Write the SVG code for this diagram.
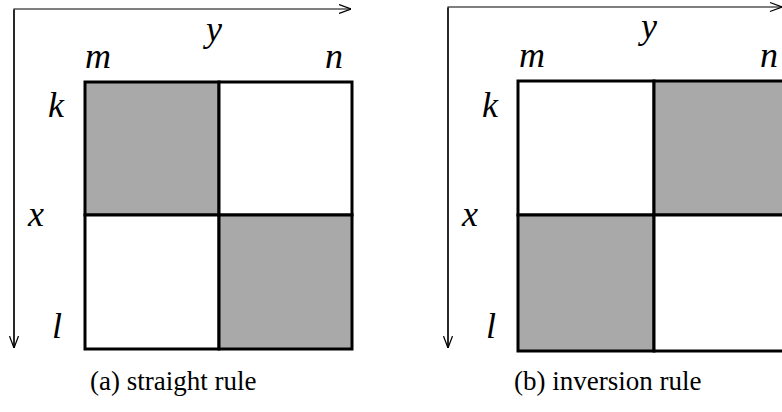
<svg xmlns="http://www.w3.org/2000/svg" width="782" height="412" viewBox="0 0 782 412">
<style>
.ax{fill:none;stroke:#000;stroke-width:1.2}
.cell{stroke:#000;stroke-width:3}
.g{fill:#a9a9a9}
.w{fill:#fff}
text{font-family:"Liberation Serif","DejaVu Serif",serif;font-style:italic;font-size:36px;fill:#000}
text.cap{font-style:normal;font-size:27px}
</style>
<defs>
<marker id="ah" viewBox="0 0 12 10" refX="12" refY="5" markerWidth="12" markerHeight="10" markerUnits="userSpaceOnUse" orient="auto">
<path d="M0,0.5 L12,5 L0,9.5" fill="none" stroke="#000" stroke-width="1.2"/>
</marker>
</defs>
<rect width="782" height="412" fill="#fff"/>
<g id="connectors">
<path class="ax" d="M14,348 V9 H351" marker-end="url(#ah)"/>
<path class="ax" d="M14,10 V348" marker-end="url(#ah)"/>
<path class="ax" d="M448,348 V7 H782"/>
<path class="ax" d="M448,8 V348" marker-end="url(#ah)"/>
<path class="ax" d="M770,2.5 L782,7 L770,11.5"/>
</g>
<g id="gridA">
<rect class="cell g" x="85" y="82" width="134" height="133"/>
<rect class="cell w" x="219" y="82" width="133" height="133"/>
<rect class="cell w" x="85" y="215" width="134" height="134"/>
<rect class="cell g" x="219" y="215" width="133" height="134"/>
</g>
<g id="gridB">
<rect class="cell w" x="518" y="81" width="136" height="134"/>
<rect class="cell g" x="654" y="81" width="136" height="134"/>
<rect class="cell g" x="518" y="215" width="136" height="136"/>
<rect class="cell w" x="654" y="215" width="136" height="136"/>
</g>
<g id="labelsA">
<text x="85" y="68">m</text>
<text x="206" y="41">y</text>
<text x="325" y="68">n</text>
<text x="48" y="117">k</text>
<text x="28" y="226">x</text>
<text x="52" y="338">l</text>
<text class="cap" x="90" y="390">(a) straight rule</text>
</g>
<g id="labelsB">
<text x="519" y="67">m</text>
<text x="641" y="38">y</text>
<text x="760" y="67">n</text>
<text x="482" y="117">k</text>
<text x="462" y="226">x</text>
<text x="486" y="338">l</text>
<text class="cap" x="514" y="390">(b) inversion rule</text>
</g>
</svg>
